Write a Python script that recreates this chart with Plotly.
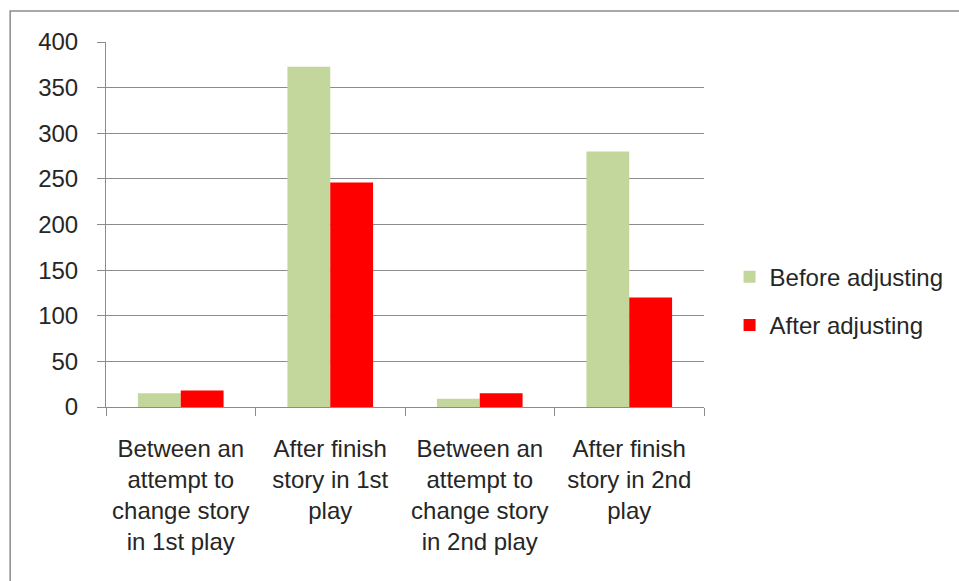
import plotly.graph_objects as go

categories = [
    "Between an<br>attempt to<br>change story<br>in 1st play",
    "After finish<br>story in 1st<br>play",
    "Between an<br>attempt to<br>change story<br>in 2nd play",
    "After finish<br>story in 2nd<br>play",
]
before_adjusting = [15, 373, 9, 280]
after_adjusting = [18, 246, 15, 120]
y_ticks = [0, 50, 100, 150, 200, 250, 300, 350, 400]

GRID = "#8c8c8c"
TEXT = "#262626"
FONT = "Liberation Sans, Arial, sans-serif"

fig = go.Figure()
fig.add_trace(go.Bar(name="Before adjusting", x=categories, y=before_adjusting,
                     marker=dict(color="#C3D69B", line=dict(width=0)),
                     legendgroup="a"))
fig.add_trace(go.Bar(name="After adjusting", x=categories, y=after_adjusting,
                     marker=dict(color="#FF0000", line=dict(width=0)),
                     legendgroup="b"))

fig.update_layout(
    width=959, height=581,
    margin=dict(l=106, r=254, t=42, b=174),
    paper_bgcolor="white", plot_bgcolor="white",
    barmode="group", bargap=0.427, bargroupgap=0,
    font=dict(family=FONT, color=TEXT, size=22),
    legend=dict(x=1.041, xanchor="left", y=0.29, yanchor="middle",
                font=dict(size=24, color=TEXT), traceorder="grouped",
                tracegroupgap=14, bgcolor="rgba(0,0,0,0)"),
    shapes=[dict(type="rect", xref="paper", yref="paper",
                 x0=(10 - 106) / 599, x1=1.6, y0=-0.6, y1=(407 - 11) / 365,
                 line=dict(color="#8c8c8c", width=1.5), layer="below")],
)
fig.update_yaxes(range=[0, 400], tickvals=y_ticks, showgrid=True, gridcolor=GRID,
                 gridwidth=1, showline=True, linecolor=GRID, linewidth=1,
                 ticks="outside", ticklen=8, tickcolor=GRID,
                 tickfont=dict(size=24, color=TEXT), zeroline=False,
                 ticklabelstandoff=14)
fig.update_xaxes(showline=True, linecolor=GRID, linewidth=1, ticks="outside",
                 tickson="boundaries", ticklen=8, tickcolor=GRID,
                 tickfont=dict(size=24, color=TEXT), tickangle=0,
                 ticklabelstandoff=20)

fig.write_html("out.html")
